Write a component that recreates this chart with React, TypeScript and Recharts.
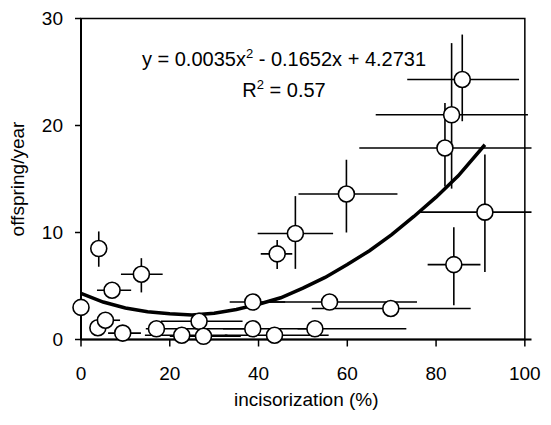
import React from 'react';
import {
  ComposedChart,
  ErrorBar,
  ReferenceArea,
  Scatter,
  XAxis,
  YAxis,
} from 'recharts';

// incisorization (%) and offspring/year, with the ends of each error bar
const pointX = [0, 4.0, 7.0, 13.6, 3.8, 5.5, 9.4, 17.0, 22.7, 26.6, 27.6, 38.7, 56.0, 69.8, 38.7, 43.6, 52.7, 44.2, 48.3, 59.8, 82.0, 83.5, 85.9, 91.0, 84.0];
const pointY = [3.0, 8.5, 4.6, 6.1, 1.1, 1.8, 0.6, 1.0, 0.4, 1.7, 0.3, 3.5, 3.5, 2.9, 1.0, 0.4, 1.0, 8.0, 9.9, 13.6, 17.9, 21.0, 24.3, 11.9, 7.0];
const xLow = [0, 4.0, 3.6, 9.0, 3.8, 5.5, 6.1, 14.6, 14.4, 18.0, 20.0, 33.5, 42.0, 52.0, 32.0, 32.4, 48.8, 40.5, 39.8, 49.0, 62.7, 66.4, 73.5, 76.4, 78.1];
const xHigh = [0, 4.0, 11.3, 18.4, 3.8, 8.8, 13.5, 37.0, 33.0, 36.4, 36.0, 46.0, 75.7, 87.8, 51.6, 55.8, 73.3, 47.6, 56.8, 71.3, 101.5, 100.7, 98.7, 101.5, 90.0];
const yLow = [3.0, 6.8, 4.6, 4.4, 1.1, 1.8, 0.6, 1.0, 0.4, 1.7, 0.3, 3.5, 3.0, 2.9, 1.0, 0.4, 1.0, 6.6, 6.6, 10.0, 14.3, 14.1, 20.4, 6.3, 3.2];
const yHigh = [3.0, 10.1, 4.6, 7.6, 1.1, 1.8, 0.6, 1.0, 0.4, 1.7, 0.3, 3.5, 4.0, 2.9, 1.0, 0.4, 1.0, 9.3, 13.4, 16.8, 22.1, 27.7, 28.5, 17.3, 10.5];

// fitted curve
const fitX = [0, 5, 10, 15, 20, 25, 30, 35, 40, 45, 50, 55, 60, 65, 70, 75, 80, 85, 91];
const fitY = [4.3, 3.5, 2.95, 2.6, 2.4, 2.3, 2.45, 2.8, 3.3, 3.9, 4.8, 5.8, 7.0, 8.3, 9.8, 11.5, 13.3, 15.3, 18.2];

const xTicks = [0, 20, 40, 60, 80, 100];
const yTicks = [0, 10, 20, 30];

const FONT = '"Liberation Sans", Arial, sans-serif';

const points = pointX.map((x, i) => ({
  x,
  y: pointY[i],
  errX: [x - xLow[i], xHigh[i] - x],
  errY: [pointY[i] - yLow[i], yHigh[i] - pointY[i]],
}));

const fit = fitX.map((x, i) => ({ x, y: fitY[i] }));

const Circle = (props: any) => (
  <circle cx={props.cx} cy={props.cy} r={8} fill="#fff" stroke="#000" strokeWidth={1.6} />
);

export default function App() {
  return (
    <div style={{ position: 'absolute', left: 0, top: 0, width: 551, height: 425, background: '#fff', fontFamily: FONT }}>
      <ComposedChart
        width={551}
        height={425}
        margin={{ top: 18.5, right: 19.5, left: 0, bottom: 0 }}
      >
        <ReferenceArea x1={0} x2={100} y1={0} y2={30} fill="none" stroke="#000" strokeWidth={1.5} ifOverflow="visible" />
        <XAxis
          type="number"
          dataKey="x"
          domain={[0, 100]}
          ticks={xTicks}
          height={85.5}
          tickSize={7}
          tickMargin={20}
          tick={{ fill: '#000', fontSize: 19, fontFamily: FONT }}
          axisLine={{ stroke: '#000', strokeWidth: 2 }}
          tickLine={{ stroke: '#000', strokeWidth: 1.5 }}
          label={{ value: 'incisorization (%)', position: 'insideBottom', offset: 19, fill: '#000', fontSize: 19, fontFamily: FONT }}
        />
        <YAxis
          type="number"
          dataKey="y"
          domain={[0, 30]}
          ticks={yTicks}
          width={81}
          tickSize={6}
          tickMargin={12}
          tick={{ fill: '#000', fontSize: 19, fontFamily: FONT }}
          axisLine={{ stroke: '#000', strokeWidth: 2 }}
          tickLine={{ stroke: '#000', strokeWidth: 1.5 }}
          label={{ value: 'offspring/year', angle: -90, position: 'insideLeft', offset: 17, fill: '#000', fontSize: 19, fontFamily: FONT, style: { textAnchor: 'middle' } }}
        />
        <Scatter
          data={fit}
          dataKey="y"
          line={{ stroke: '#000', strokeWidth: 3.5 }}
          shape={() => <g />}
          isAnimationActive={false}
        />
        <Scatter data={points} dataKey="y" shape={Circle} isAnimationActive={false}>
          <ErrorBar dataKey="errX" direction="x" width={0} stroke="#000" strokeWidth={1.6} />
          <ErrorBar dataKey="errY" direction="y" width={0} stroke="#000" strokeWidth={1.6} />
        </Scatter>
      </ComposedChart>
      <div
        style={{
          position: 'absolute',
          left: 84,
          top: 45,
          width: 400,
          textAlign: 'center',
          fontSize: 20,
          lineHeight: '28px',
          color: '#000',
          pointerEvents: 'none',
        }}
      >
        <div>
          y = 0.0035x<span style={{ fontSize: 13, position: 'relative', top: -8 }}>2</span> - 0.1652x + 4.2731
        </div>
        <div>
          R<span style={{ fontSize: 13, position: 'relative', top: -8 }}>2</span> = 0.57
        </div>
      </div>
    </div>
  );
}
